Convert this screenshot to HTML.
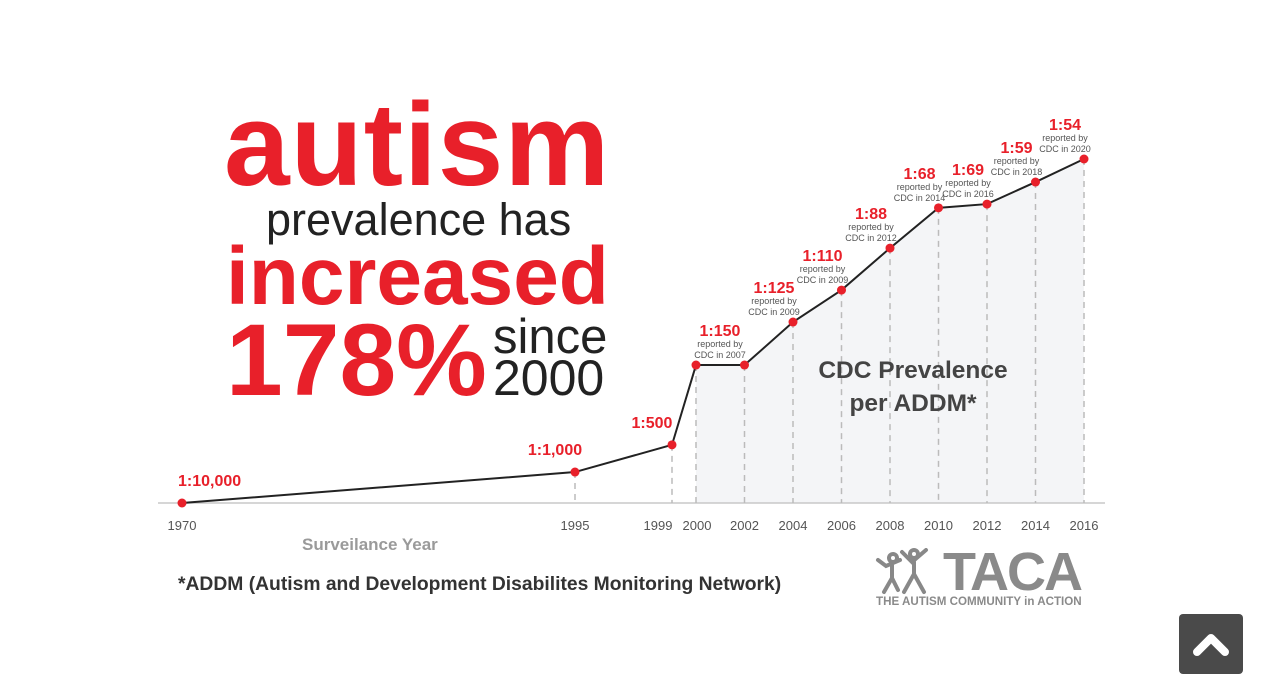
<!DOCTYPE html>
<html><head><meta charset="utf-8"><style>
body{margin:0;width:1263px;height:668px;background:#fff;overflow:hidden;position:relative;font-family:"Liberation Sans",sans-serif}
.t{position:absolute;white-space:nowrap;margin:0}
</style></head><body>
<div class="t" style="left:224px;top:77px;font-size:118px;font-weight:bold;color:#e8202a;letter-spacing:1px">autism</div>
<div class="t" style="left:266px;top:194px;font-size:45px;color:#222">prevalence has</div>
<div class="t" style="left:226px;top:230px;font-size:82px;font-weight:bold;color:#e8202a">increased</div>
<div class="t" style="left:226px;top:302px;font-size:102px;font-weight:bold;color:#e8202a;letter-spacing:0px">178%</div>
<div class="t" style="left:493px;top:309px;font-size:49px;color:#222">since</div>
<div class="t" style="left:493px;top:349px;font-size:50px;color:#222">2000</div>
<svg id="chart" width="1263" height="668" style="position:absolute;left:0;top:0"></svg>
<div class="t" style="left:302px;top:535px;font-size:17px;font-weight:bold;color:#9a9a9a">Surveilance Year</div>
<div class="t" style="left:178px;top:574px;font-size:19.3px;font-weight:bold;color:#333">*ADDM (Autism and Development Disabilites Monitoring Network)</div>
<div class="t" style="left:790px;top:354px;width:246px;text-align:center;font-size:24.5px;font-weight:bold;color:#444;line-height:33px">CDC Prevalence<br>per ADDM*</div>
<svg width="70" height="50" style="position:absolute;left:874px;top:548px" stroke="#888" stroke-width="4" fill="none" stroke-linecap="round">
<circle cx="19" cy="10" r="4"/><path d="M4 12 L12 18 L26 12 M18 16 L18 30 L10 44 M18 30 L24 42"/>
<circle cx="40" cy="6" r="4"/><path d="M28 4 L38 14 L52 2 M40 14 L40 26 L30 44 M40 26 L50 44"/>
</svg>
<div class="t" style="left:943px;top:541px;font-size:54px;font-weight:bold;color:#8a8a8a;letter-spacing:-2px">TACA</div>
<div class="t" style="left:876px;top:595px;font-size:11.6px;font-weight:bold;color:#8a8a8a">THE AUTISM COMMUNITY in ACTION</div>
<div style="position:absolute;left:1179px;top:614px;width:64px;height:60px;background:#4a4a4a;border-radius:4px">
<svg width="64" height="54"><path d="M18 38 L32 24 L46 38" stroke="#fff" stroke-width="8" fill="none" stroke-linecap="round" stroke-linejoin="round"/></svg></div>
<script>
const years=[1970,1995,1999,2000,2002,2004,2006,2008,2010,2012,2014,2016];
const levels=[0,9,16.9,40.1,40.1,52.6,61.9,74.1,85.8,86.9,93.3,100];
const ratios=["1:10,000","1:1,000","1:500","1:150","","1:125","1:110","1:88","1:68","1:69","1:59","1:54"];
const reported=["","","","2007","","2009","2009","2012","2014","2016","2018","2020"];
const tickLabels=["1970","1995","1999","2000","2002","2004","2006","2008","2010","2012","2014","2016"];
const kYears=[1970,1995,1999,2000,2016],kPx=[182,575,672,696,1084];
function xs(y){for(let i=0;i<kYears.length-1;i++){if(y<=kYears[i+1]){return kPx[i]+(y-kYears[i])/(kYears[i+1]-kYears[i])*(kPx[i+1]-kPx[i]);}}return kPx[kPx.length-1];}
const base=503;function ys(v){return base-v*3.44;}
const svg=document.getElementById('chart');const NS='http://www.w3.org/2000/svg';
function mk(t,a){const e=document.createElementNS(NS,t);for(const k in a)e.setAttribute(k,a[k]);svg.appendChild(e);return e;}
let fp='M'+xs(2000)+' '+base;for(let i=3;i<years.length;i++)fp+=' L'+xs(years[i])+' '+ys(levels[i]);fp+=' L'+xs(2016)+' '+base+' Z';
let f=mk('path',{d:fp,fill:'#f4f5f7'});


let ax=mk('line',{x1:158,x2:1105,y1:base,y2:base,stroke:'#c8c8c8','stroke-width':1.5});


for(let i=1;i<years.length;i++){let g=mk('line',{x1:xs(years[i]),x2:xs(years[i]),y1:ys(levels[i]),y2:base,stroke:'#bbb','stroke-width':1.5,'stroke-dasharray':'6 5'});

}
let d='';years.forEach((y,i)=>{d+=(i?' L':'M')+xs(y)+' '+ys(levels[i]);});
let ln=mk('path',{d:d,fill:'none',stroke:'#222','stroke-width':2});


years.forEach((y,i)=>{const x=xs(y),yy=ys(levels[i]);
let c=mk('circle',{cx:x,cy:yy,r:4.5,fill:'#e8202a'});


let tx=x+(i==2?-14:(i==3?1:0));
let t=mk('text',{x:tx,y:base+27,'text-anchor':'middle','font-size':13,fill:'#555','font-family':'Liberation Sans'});t.textContent=tickLabels[i];


if(ratios[i]){let lx,ly,anchor='middle';
if(i==0){lx=x-4;ly=yy-17;anchor='start';}else if(i<3){lx=x-20;ly=yy-17;}else if(i==3){lx=x+24;ly=yy-29;}else{lx=x-19;ly=yy-29;}
let r=mk('text',{x:lx,y:ly,'text-anchor':anchor,'font-size':16,'font-weight':'bold',fill:'#e8202a','font-family':'Liberation Sans'});r.textContent=ratios[i];


if(reported[i]){let s1=mk('text',{x:lx,y:ly+11,'text-anchor':'middle','font-size':9,fill:'#555','font-family':'Liberation Sans'});s1.textContent='reported by';


let s2=mk('text',{x:lx,y:ly+22,'text-anchor':'middle','font-size':9,fill:'#555','font-family':'Liberation Sans'});s2.textContent='CDC in '+reported[i];

}}});
</script>
</body></html>
